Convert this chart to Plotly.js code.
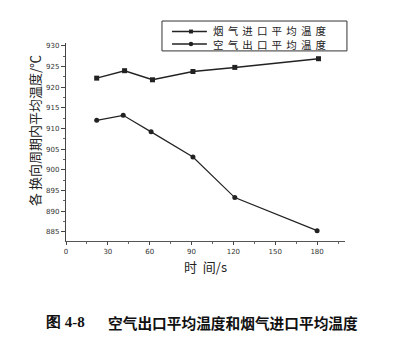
<!DOCTYPE html>
<html>
<head>
<meta charset="utf-8">
<script src="https://cdn.plot.ly/plotly-3.0.1.min.js"></script>
<style>html,body{margin:0;padding:0;background:#fff;}#chart{width:401px;height:355px;}</style>
</head>
<body>
<div id="chart"></div>
<script>
var fluePoints = [22, 42, 62, 91, 121, 181];
var flueTemps = [922.2, 924.0, 921.8, 923.8, 924.8, 926.9];
var airPoints = [22, 41, 61, 91, 121, 180];
var airTemps = [912.0, 913.2, 909.2, 903.1, 893.3, 885.3];
var seriesNames = ['烟气进口平均温度', '空气出口平均温度'];
var xTicks = [0, 30, 60, 90, 120, 150, 180];
var yTicks = [885, 890, 895, 900, 905, 910, 915, 920, 925, 930];

var cjk = '"Noto Sans CJK SC", "Noto Sans", sans-serif';
function spaced(s) { return s.split('').join('\u2004\u200A'); }

var traces = [
  {x: fluePoints, y: flueTemps, name: seriesNames[0], mode: 'lines+markers',
   line: {color: '#222', width: 1.5}, marker: {symbol: 'square', size: 5, color: '#222'}},
  {x: airPoints, y: airTemps, name: seriesNames[1], mode: 'lines+markers',
   line: {color: '#222', width: 1.2}, marker: {symbol: 'circle', size: 5, color: '#222'}}
];

// custom legend (paper coordinates)
var legX0 = 0.344, legX1 = 1.007, legY0 = 0.96, legY1 = 1.111;
var rowY = [1.058, 0.995];
var symX0 = 0.380, symX1 = 0.505, symXc = 0.448, txtX = 0.518;
var shapes = [
  {type: 'rect', xref: 'paper', yref: 'paper', x0: legX0, x1: legX1, y0: legY0, y1: legY1,
   line: {color: '#333', width: 1}, fillcolor: 'rgba(0,0,0,0)'}
];
var annotations = [];
rowY.forEach(function (yy, i) {
  shapes.push({type: 'line', xref: 'paper', yref: 'paper', x0: symX0, x1: symX1, y0: yy, y1: yy,
    line: {color: '#222', width: 1.3}});
  shapes.push(i === 0
    ? {type: 'rect', xref: 'paper', yref: 'paper', x0: symXc - 0.007, x1: symXc + 0.007,
       y0: yy - 0.01, y1: yy + 0.01, line: {width: 0}, fillcolor: '#222'}
    : {type: 'circle', xref: 'paper', yref: 'paper', x0: symXc - 0.008, x1: symXc + 0.008,
       y0: yy - 0.011, y1: yy + 0.011, line: {width: 0}, fillcolor: '#222'});
});
annotations.push({xref: 'paper', yref: 'paper', x: txtX, y: (rowY[0] + rowY[1]) / 2,
  xanchor: 'left', yanchor: 'middle', align: 'left', showarrow: false,
  text: spaced(seriesNames[0]) + '<br>' + spaced(seriesNames[1]),
  font: {family: cjk, size: 10.5, color: '#222'}});

annotations.push(
  {xref: 'paper', yref: 'paper', x: -0.115, y: 0.56, xanchor: 'center', yanchor: 'middle', textangle: -90,
   showarrow: false, text: '各 换向周期内平均温度/℃', font: {family: cjk, size: 13, color: '#222'}},
  {xref: 'paper', yref: 'paper', x: -0.08, y: -0.41, xanchor: 'left', yanchor: 'middle',
   showarrow: false, text: '<b>图 4-8</b>', font: {family: 'Liberation Serif, serif', size: 15, color: '#111'}},
  {xref: 'paper', yref: 'paper', x: 0.145, y: -0.41, xanchor: 'left', yanchor: 'middle',
   showarrow: false, text: '<b>空气出口平均温度和烟气进口平均温度</b>', font: {family: cjk, size: 14.7, color: '#111'}}
);

var layout = {
  width: 401, height: 355,
  margin: {l: 66, r: 56, t: 43, b: 114},
  paper_bgcolor: '#fff', plot_bgcolor: '#fff',
  showlegend: false,
  xaxis: {range: [0, 200], tickvals: xTicks, ticks: 'outside', ticklen: 3, tickwidth: 1,
    tickcolor: '#444', showline: true, linecolor: '#555', linewidth: 1.2, showgrid: false,
    zeroline: false, tickfont: {family: 'DejaVu Sans', size: 7, color: '#333'},
    minor: {dtick: 15, tick0: 0, ticks: 'outside', ticklen: 2, tickcolor: '#666'},
    title: {text: '时  间/s', font: {family: cjk, size: 13, color: '#222'}, standoff: 8}},
  yaxis: {range: [882.8, 930.7], tickvals: yTicks, ticks: 'outside', ticklen: 4, tickwidth: 1,
    tickcolor: '#444', showline: true, linecolor: '#444', linewidth: 1.2, showgrid: false,
    zeroline: false, tickfont: {family: 'DejaVu Sans', size: 7, color: '#333'},
    minor: {dtick: 2.5, tick0: 885, ticks: 'outside', ticklen: 2, tickcolor: '#666'}},
  shapes: shapes,
  annotations: annotations
};
Plotly.newPlot('chart', traces, layout, {displayModeBar: false, staticPlot: true});
</script>
</body>
</html>
